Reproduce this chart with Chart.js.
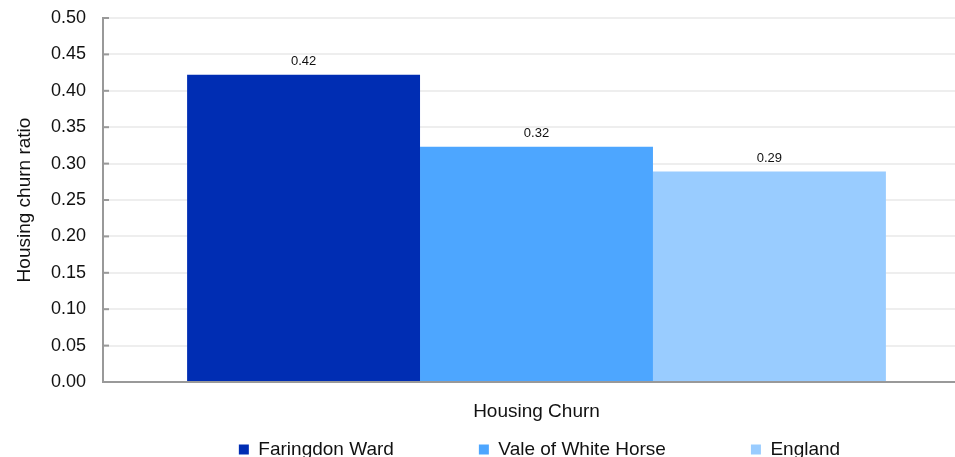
<!DOCTYPE html>
<html>
<head>
<meta charset="utf-8">
<script src="https://cdn.jsdelivr.net/npm/chart.js@4.4.1/dist/chart.umd.min.js"></script>
<style>
  html, body { margin: 0; padding: 0; background: #fff; overflow: hidden; }
  #churnChart { display: block; }
</style>
</head>
<body>
<canvas id="churnChart" width="970" height="457"></canvas>
<script>
// chart data
const categories = ['Housing Churn'];
const seriesNames = ['Faringdon Ward', 'Vale of White Horse', 'England'];
const faringdonValues = [0.422];
const valeValues = [0.323];
const englandValues = [0.289];
const seriesColors = ['#002db3', '#4da6ff', '#99ccff'];
const yTicks = [0, 0.05, 0.10, 0.15, 0.20, 0.25, 0.30, 0.35, 0.40, 0.45, 0.50];

const FONT = '"Liberation Sans", Arial, sans-serif';

// value labels above each bar
const barLabels = {
    id: 'barLabels',
    afterDatasetsDraw(chart) {
        const ctx = chart.ctx;
        ctx.save();
        ctx.font = '13px ' + FONT;
        ctx.fillStyle = '#111';
        ctx.textAlign = 'center';
        ctx.textBaseline = 'middle';
        chart.data.datasets.forEach((ds, i) => {
            chart.getDatasetMeta(i).data.forEach((bar, j) => {
                ctx.fillText(ds.data[j].toFixed(2), bar.x, bar.y - 13);
            });
        });
        ctx.restore();
    },
    // short darker tick stubs just inside the y axis
    afterDraw(chart) {
        const y = chart.scales.y, ctx = chart.ctx;
        ctx.save();
        ctx.strokeStyle = '#999';
        ctx.lineWidth = 2;
        y.ticks.forEach((t, i) => {
            const py = y.getPixelForTick(i);
            ctx.beginPath();
            ctx.moveTo(chart.chartArea.left, py);
            ctx.lineTo(chart.chartArea.left + 6, py);
            ctx.stroke();
        });
        ctx.restore();
    }
};

// legend uses a wide item padding, lift it back so that padding only spaces items sideways
const legendLift = {
    id: 'legendLift',
    beforeDraw(chart) {
        const lg = chart.legend;
        lg.$pos = [lg.top, lg.left, lg.right];
        lg.top -= lg.options.labels.padding - 13;
        lg.left += 3;
        lg.right += 3;
    },
    afterDraw(chart) {
        const lg = chart.legend;
        [lg.top, lg.left, lg.right] = lg.$pos;
    }
};

new Chart(document.getElementById('churnChart'), {
    type: 'bar',
    data: {
        labels: categories,
        datasets: [
            { label: seriesNames[0], data: faringdonValues, backgroundColor: seriesColors[0] },
            { label: seriesNames[1], data: valeValues, backgroundColor: seriesColors[1] },
            { label: seriesNames[2], data: englandValues, backgroundColor: seriesColors[2] }
        ]
    },
    options: {
        responsive: false,
        animation: false,
        categoryPercentage: 0.806,
        barPercentage: 1,
        layout: { padding: { top: 18, right: 0, bottom: 0, left: 0 } },
        plugins: {
            tooltip: { enabled: false },
            legend: {
                position: 'bottom',
                fullSize: false,
                maxHeight: 30,
                labels: {
                    boxWidth: 10,
                    boxHeight: 10,
                    padding: 85,
                    color: '#111',
                    font: { family: FONT, size: 19 }
                }
            }
        },
        scales: {
            x: {
                grid: { display: false },
                border: { display: true, color: '#999', width: 2 },
                ticks: { color: '#111', padding: 10, font: { family: FONT, size: 19 } },
                afterFit: s => { s.height = 45; }
            },
            y: {
                min: 0,
                max: 0.5,
                afterBuildTicks: s => { s.ticks = yTicks.map(v => ({ value: v })); },
                grid: {
                    color: ctx => ctx.tick && ctx.tick.value === 0 ? '#999' : '#eeeeee',
                    lineWidth: 2,
                    drawTicks: false
                },
                border: { display: true, color: '#999', width: 2 },
                ticks: {
                    color: '#111',
                    padding: 17,
                    font: { family: FONT, size: 18 },
                    callback: v => v.toFixed(2)
                },
                title: {
                    display: true,
                    text: 'Housing churn ratio',
                    color: '#111',
                    font: { family: FONT, size: 19 },
                    padding: { top: 13, bottom: 0 }
                },
                afterFit: s => { s.width = 103; s.paddingTop = 0; s.paddingBottom = 0; }
            }
        }
    },
    plugins: [barLabels, legendLift]
});
</script>
</body>
</html>
